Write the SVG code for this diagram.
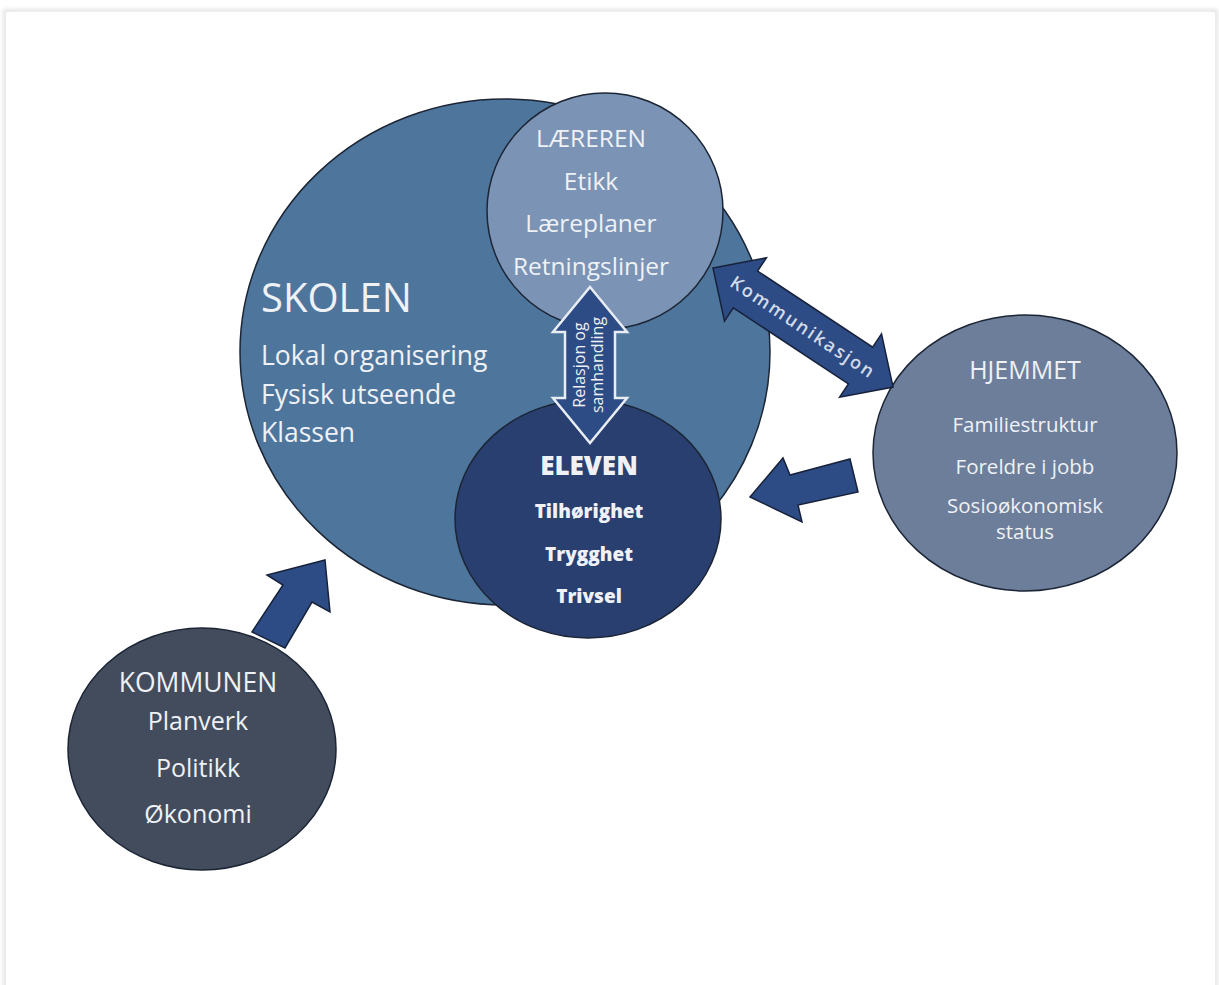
<svg xmlns="http://www.w3.org/2000/svg" width="1219" height="985" viewBox="0 0 1219 985">
<defs>
<style>
.t{font-family:"Open Sans","Liberation Sans",sans-serif;fill:#eef1f5;text-anchor:middle}
.b{font-weight:800}
.arr{fill:#2d4b85;stroke:#17223a;stroke-width:1.5;stroke-linejoin:miter}
.node{stroke:#1c2535;stroke-width:1.5}
</style>
<filter id="sh" x="-5%" y="-5%" width="110%" height="110%">
<feGaussianBlur stdDeviation="2"/>
</filter>
</defs>
<rect x="0" y="0" width="1219" height="985" fill="#ffffff"/>
<rect x="5" y="11" width="1211" height="990" fill="none" stroke="#c8c8c8" stroke-width="2" filter="url(#sh)"/>
<rect x="6" y="12" width="1209" height="990" fill="#ffffff"/>

<g id="skolen">
<ellipse class="node" cx="505" cy="352" rx="265" ry="253" fill="#4e769d"/>
<text class="t" x="261" y="312" style="text-anchor:start;font-size:40px">SKOLEN</text>
<text class="t" x="261" y="365" style="text-anchor:start;font-size:26.5px">Lokal organisering</text>
<text class="t" x="261" y="404" style="text-anchor:start;font-size:26.5px">Fysisk utseende</text>
<text class="t" x="261" y="442" style="text-anchor:start;font-size:26.5px">Klassen</text>
</g>

<g id="laereren">
<circle class="node" cx="605" cy="211" r="118" fill="#7b93b4"/>
<text class="t" x="591" y="147" style="font-size:24.5px">LÆREREN</text>
<text class="t" x="591" y="190" style="font-size:24.5px">Etikk</text>
<text class="t" x="591" y="232" style="font-size:24.5px">Læreplaner</text>
<text class="t" x="591" y="275" style="font-size:24.5px">Retningslinjer</text>
</g>

<g id="eleven">
<ellipse class="node" cx="588" cy="519" rx="133" ry="119" fill="#283f70"/>
<text class="t b" x="589" y="475" style="font-size:26px">ELEVEN</text>
<text class="t b" x="589" y="518" style="font-size:19px">Tilhørighet</text>
<text class="t b" x="589" y="561" style="font-size:19px">Trygghet</text>
<text class="t b" x="589" y="603" style="font-size:19px">Trivsel</text>
</g>

<g id="hjemmet">
<ellipse class="node" cx="1025" cy="453" rx="152" ry="138" fill="#6d7e9b"/>
<text class="t" x="1025" y="379" style="font-size:25px">HJEMMET</text>
<text class="t" x="1025" y="432" style="font-size:20.5px">Familiestruktur</text>
<text class="t" x="1025" y="474" style="font-size:20.5px">Foreldre i jobb</text>
<text class="t" x="1025" y="513" style="font-size:20.5px">Sosioøkonomisk</text>
<text class="t" x="1025" y="539" style="font-size:20.5px">status</text>
</g>

<g id="connectors">
<polygon id="rel" points="590,287 627,332 615,332 615,398 627,398 590,443 553,398 565,398 565,332 553,332" fill="#2d4b85" stroke="#e8edf4" stroke-width="2.5"/>
<text class="t" transform="translate(590,365) rotate(-90)" x="0" y="-5" style="font-size:16px">Relasjon og</text>
<text class="t" transform="translate(590,365) rotate(-90)" x="0" y="13" style="font-size:16px">samhandling</text>

<g transform="translate(803,327.5) rotate(33.5)">
<polygon class="arr" points="-108,0 -69,-38 -69,-22 69,-22 69,-38 108,0 69,38 69,22 -69,22 -69,38"/>
<text class="t" x="0" y="6" style="font-size:18px;font-weight:600;letter-spacing:2.2px;fill:#d3dbe8">Kommunikasjon</text>
</g>

<polygon id="hjem-elev" class="arr" points="750,497 783,458 790,475 850,459 858,492 798,505 802,522"/>
<polygon id="komm-skol" class="arr" points="325,560 330,612 312,602 285,648 252,632 283,585 267,575"/>
</g>

<g id="kommunen">
<ellipse class="node" cx="202" cy="749" rx="134" ry="121" fill="#434c5d"/>
<text class="t" x="198" y="692" style="font-size:26.5px">KOMMUNEN</text>
<text class="t" x="198" y="730" style="font-size:25px">Planverk</text>
<text class="t" x="198" y="777" style="font-size:25px">Politikk</text>
<text class="t" x="198" y="823" style="font-size:25px">Økonomi</text>
</g>
</svg>
